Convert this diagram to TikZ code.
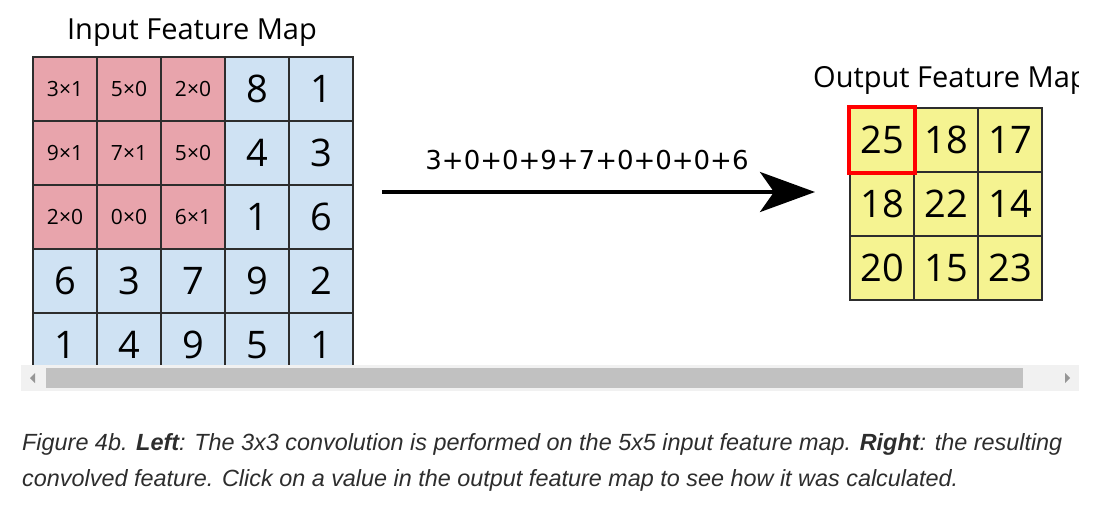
\documentclass[tikz,border=0pt]{standalone}
\usepackage{fontspec}
\setmainfont{Open Sans}
\newfontfamily\sumfont{DejaVu Sans}
\newfontfamily\captionfont{Liberation Sans}
\usetikzlibrary{arrows.meta}
\definecolor{kernelpink}{RGB}{232,164,172}
\definecolor{mapblue}{RGB}{207,226,243}
\definecolor{outyellow}{RGB}{245,243,145}
\definecolor{gridline}{RGB}{45,45,45}
\definecolor{trackgray}{RGB}{241,241,241}
\definecolor{thumbgray}{RGB}{193,193,193}
\definecolor{tipgray}{RGB}{150,150,150}
\definecolor{captiongray}{RGB}{45,45,45}

\begin{document}
\begin{tikzpicture}[
		x=1pt, y=-1pt,
		cell/.style={draw=gridline, line width=1.6pt, minimum size=64pt, inner sep=0pt, font=\fontsize{38}{38}\selectfont},
		kernelcell/.style={cell, fill=kernelpink, font=\fontsize{21}{21}\selectfont},
		inputcell/.style={cell, fill=mapblue},
		outcell/.style={cell, fill=outyellow},
		maptitle/.style={inner sep=0pt, font=\fontsize{29}{29}\selectfont},
		captionline/.style={inner sep=0pt, anchor=base west, text=captiongray, font=\captionfont\itshape\fontsize{23.4}{23.4}\selectfont}
	]
	\useasboundingbox (0,0) rectangle (1115,507);

	% input feature map with the 3x3 kernel in the corner
	\node[maptitle] (inTitle) at (192,33) {Input Feature Map};
	\foreach \row [count=\r from 0] in {{3×1,5×0,2×0,8,1},{9×1,7×1,5×0,4,3},{2×0,0×0,6×1,1,6},{6,3,7,9,2},{1,4,9,5,1}}
		\foreach \v [count=\c from 0] in \row {
			\ifnum\r<3 \ifnum\c<3 \def\sty{kernelcell}\else\def\sty{inputcell}\fi \else\def\sty{inputcell}\fi
			\node[\sty] (in\r\c) at (65+64*\c, 89+64*\r) {\v};
		}

	% sum and arrow
	\coordinate (arrS) at (382,192);
	\coordinate (arrE) at (815,192);
	\draw[line width=4pt, -{Stealth[length=55pt, width=40pt, inset=14pt]}] (arrS) -- (arrE);
	\node[font=\sumfont\fontsize{26}{26}\selectfont] (sum) at (587,160) {3+0+0+9+7+0+0+0+6};

	% output feature map
	\begin{scope}
		\clip (0,0) rectangle (1078,365);
		\node[maptitle, anchor=west] (outTitle) at (813,80) {Output Feature Map};
	\end{scope}
	\foreach \row [count=\r from 0] in {{25,18,17},{18,22,14},{20,15,23}}
		\foreach \v [count=\c from 0] in \row
			\node[outcell] (out\r\c) at (882+64*\c, 140+64*\r) {\v};
	\draw[red, line width=4pt] (out00.north west) rectangle (out00.south east);

	% scroll bar
	\fill[trackgray] (21,365) rectangle (1079,391);
	\fill[thumbgray] (46,368) rectangle (1023,388);
	\fill[tipgray] (30,378) -- (35,373) -- (35,383) -- cycle;
	\fill[tipgray] (1070,378) -- (1065,373) -- (1065,383) -- cycle;

	% caption
	\node[captionline] (cap1) at (22,450) {Figure 4b. \textbf{Left}: The 3x3 convolution is performed on the 5x5 input feature map. \textbf{Right}: the resulting};
	\node[captionline] (cap2) at (22,486) {convolved feature. Click on a value in the output feature map to see how it was calculated.};
\end{tikzpicture}
\end{document}
